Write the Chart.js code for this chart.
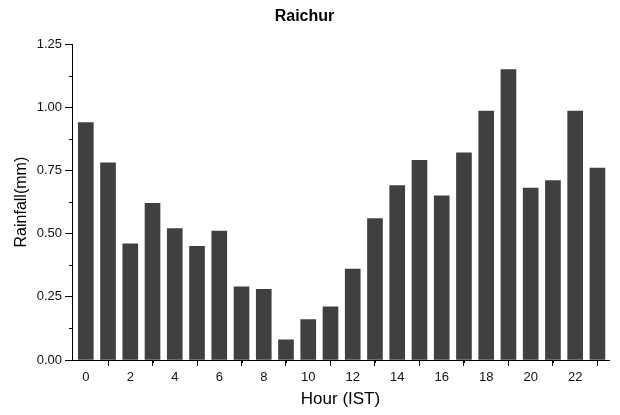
<!DOCTYPE html>
<html>
<head>
<meta charset="utf-8">
<title>Raichur</title>
<script src="https://cdn.jsdelivr.net/npm/chart.js@4"></script>
<style>
  html, body { margin: 0; padding: 0; background: #fff; }
  #wrap { width: 620px; height: 415px; }
</style>
</head>
<body>
<div id="wrap"><canvas id="chart" width="620" height="415"></canvas></div>
<script>
// Hourly mean rainfall, Raichur
const hours = [0, 1, 2, 3, 4, 5, 6, 7, 8, 9, 10, 11, 12, 13, 14, 15, 16, 17, 18, 19, 20, 21, 22, 23];
const rainfall = [0.94, 0.78, 0.46, 0.62, 0.52, 0.45, 0.51, 0.29, 0.28, 0.08, 0.16, 0.21,
  0.36, 0.56, 0.69, 0.79, 0.65, 0.82, 0.985, 1.15, 0.68, 0.71, 0.985, 0.76];
const xTicks = [0, 2, 4, 6, 8, 10, 12, 14, 16, 18, 20, 22];
const xMinor = [1, 3, 5, 7, 9, 11, 13, 15, 17, 19, 21, 23];
const yTicks = [0, 0.25, 0.5, 0.75, 1.0, 1.25];
const yMinor = [0.125, 0.375, 0.625, 0.875, 1.125];

const FONT = "'Liberation Sans', Arial, sans-serif";

// Minor tick marks (Chart.js has none of its own)
const minorTicks = {
  id: "minorTicks",
  afterDraw(chart) {
    const ctx = chart.ctx;
    const x = chart.scales.x;
    const y = chart.scales.y;
    ctx.save();
    ctx.strokeStyle = "#000";
    ctx.lineWidth = 1;
    ctx.beginPath();
    xMinor.forEach((v) => {
      const px = Math.round(x.getPixelForValue(v)) + 0.5;
      ctx.moveTo(px, x.top);
      ctx.lineTo(px, x.top + 3);
    });
    yMinor.forEach((v) => {
      const py = Math.round(y.getPixelForValue(v)) + 0.5;
      ctx.moveTo(y.right, py);
      ctx.lineTo(y.right - 3, py);
    });
    ctx.stroke();
    ctx.restore();
  },
};

new Chart(document.getElementById("chart"), {
  type: "bar",
  data: {
    datasets: [
      {
        data: hours.map((h, i) => ({ x: h, y: rainfall[i] })),
        backgroundColor: "#404040",
        borderWidth: 0,
        barThickness: 15,
      },
    ],
  },
  options: {
    responsive: false,
    animation: false,
    layout: { padding: { left: 0, right: 11, top: 0, bottom: 0 } },
    plugins: {
      legend: { display: false },
      tooltip: { enabled: false },
      title: {
        display: true,
        text: "Raichur",
        color: "#000",
        font: { family: FONT, size: 16, weight: "bold" },
        padding: { top: 7, bottom: 18 },
      },
    },
    scales: {
      x: {
        type: "linear",
        min: -0.62,
        max: 23.52,
        offset: false,
        afterBuildTicks: (scale) => {
          scale.ticks = xTicks.map((v) => ({ value: v }));
        },
        afterFit: (scale) => {
          scale.height = 55;
        },
        ticks: {
          color: "#111",
          font: { family: FONT, size: 13 },
          padding: 4,
          maxRotation: 0,
          autoSkip: false,
        },
        grid: {
          drawOnChartArea: false,
          drawTicks: true,
          tickLength: 6,
          tickColor: "#000",
        },
        border: { display: true, color: "#000", width: 1 },
        title: {
          display: true,
          text: "Hour (IST)",
          color: "#000",
          font: { family: FONT, size: 17 },
          padding: { top: 0, bottom: 5 },
        },
      },
      y: {
        min: 0,
        max: 1.25,
        afterBuildTicks: (scale) => {
          scale.ticks = yTicks.map((v) => ({ value: v }));
        },
        afterFit: (scale) => {
          scale.width = 72;
        },
        ticks: {
          color: "#111",
          font: { family: FONT, size: 13 },
          padding: 3,
          callback: (v) => Number(v).toFixed(2),
        },
        grid: {
          drawOnChartArea: false,
          drawTicks: true,
          tickLength: 7,
          tickColor: "#000",
        },
        border: { display: true, color: "#000", width: 1 },
        title: {
          display: true,
          text: "Rainfall(mm)",
          color: "#000",
          font: { family: FONT, size: 16 },
          padding: { top: 12, bottom: 0 },
        },
      },
    },
  },
  plugins: [minorTicks],
});
</script>
</body>
</html>
